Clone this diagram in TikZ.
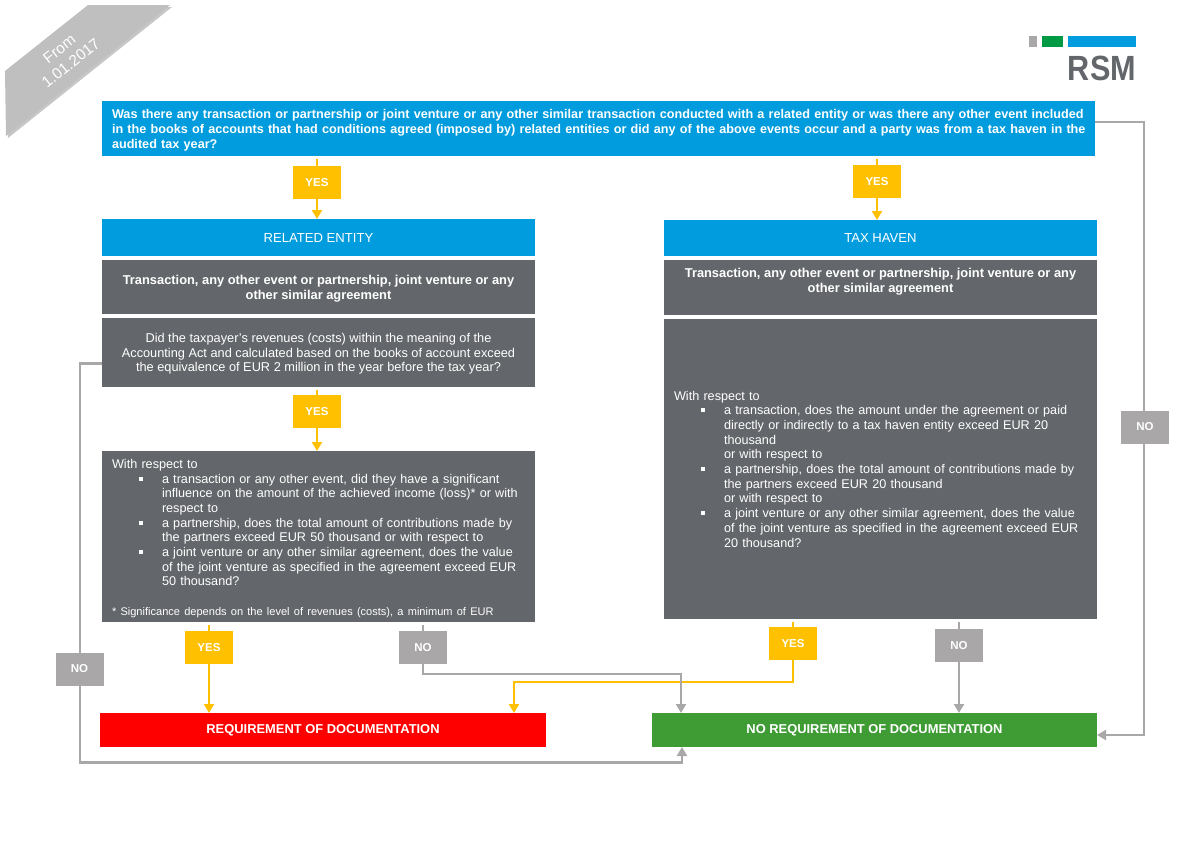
\documentclass[tikz,border=0pt]{standalone}
\usepackage{fontspec}
\setmainfont{Liberation Sans}
\usetikzlibrary{positioning, arrows.meta, shadows, backgrounds}
\definecolor{rsmblue}{HTML}{009CDE}
\definecolor{rsmdark}{HTML}{63666A}
\definecolor{rsmyellow}{HTML}{FFC000}
\definecolor{rsmgrey}{HTML}{A9A7A7}
\definecolor{rsmgreen}{HTML}{3F9C35}
\definecolor{rsmred}{HTML}{FF0000}
\definecolor{rsmlogogreen}{HTML}{009A44}
\newcommand{\itemline}[1]{\hspace*{27pt}\rule[2.5pt]{4pt}{4pt}\hspace*{19pt}#1}
\newcommand{\restline}[1]{\hspace*{50pt}#1}
\newcommand{\fullline}[1]{\makebox[0pt][l]{#1}}

\begin{document}
\begin{tikzpicture}[
    x=1pt, y=-1pt,
    >=Stealth,
    every node/.style={inner sep=0pt, outer sep=0pt, text=white},
    bar/.style={rectangle, minimum width=433pt, minimum height=36pt,
                fill=rsmblue, align=center, font=\fontsize{13.1}{14.7}\selectfont},
    darkbox/.style={rectangle, minimum width=433pt, fill=rsmdark, align=center,
                    font=\fontsize{12.77}{14.7}\selectfont},
    headbox/.style={darkbox, minimum height=54pt, font=\fontsize{12.85}{14.7}\selectfont\bfseries},
    listbox/.style={darkbox, align=left, text width=413pt, font=\fontsize{12.65}{14.7}\selectfont},
    yesbox/.style={rectangle, minimum width=48pt, minimum height=33pt, fill=rsmyellow,
                   font=\fontsize{11.5}{14}\selectfont\bfseries},
    nobox/.style={yesbox, fill=rsmgrey},
    endbox/.style={rectangle, minimum height=34pt, font=\fontsize{12.9}{14.7}\selectfont\bfseries},
    yesarrow/.style={-{Triangle[length=9pt, width=10pt]}, line width=2.8pt, rsmyellow},
    noarrow/.style={-{Triangle[length=9pt, width=10pt]}, line width=2.8pt, rsmgrey}
]
  \useasboundingbox (0,0) rectangle (1200,849);

  % Banner and logo
  \fill[black!25, drop shadow={shadow xshift=2pt, shadow yshift=-2pt, opacity=0.45}]
    (88,5) -- (170,5) -- (6,136) -- (5,71) -- cycle;
  \node[rotate=38.5, align=center, font=\fontsize{15.5}{18.5}\selectfont] (banner) at (65,56) {From\\1.01.2017};
  \fill[rsmgrey] (1029,36) rectangle (1037,47);
  \fill[rsmlogogreen] (1042,36) rectangle (1063,47);
  \fill[rsmblue] (1068,36) rectangle (1136,47);
  \node[text=rsmdark, anchor=east, font=\fontsize{35}{35}\selectfont\bfseries, xscale=0.875] (logo) at (1136,68.5) {RSM};

  % Top: the question
  \node[rectangle, fill=rsmblue, minimum width=993pt, minimum height=55pt, text width=973pt,
        align=left, font=\fontsize{12.65}{14.7}\selectfont\bfseries] (question) at (598.5,128.5)
    {\rule{0pt}{13pt}\fullline{Was there any transaction or partnership or joint venture or any other similar transaction conducted with a related entity or was there any other event included}\\
     \fullline{in the books of accounts that had conditions agreed (imposed by) related entities or did any of the above events occur and a party was from a tax haven in the}\\
     audited tax year?};

  % Left column
  \node[bar, below=63pt of question, xshift=-280pt, minimum height=37pt] (related) {RELATED ENTITY};
  \node[yesbox, above=20pt of related, xshift=-1.5pt] (yesrel) {YES};
  \node[headbox, below=4pt of related] (transrel)
    {\rule{0pt}{13pt}Transaction, any other event or partnership, joint venture or any\\other similar agreement};
  \node[darkbox, below=4pt of transrel, minimum height=69pt] (revenues)
    {\rule{0pt}{12pt}Did the taxpayer’s revenues (costs) within the meaning of the\\
     Accounting Act and calculated based on the books of account exceed\\
     the equivalence of EUR 2 million in the year before the tax year?};
  \node[yesbox, below=8pt of revenues, xshift=-1.5pt] (yesrev) {YES};
  \node[listbox, below=64pt of revenues, minimum height=171pt] (listrel)
    {\rule{0pt}{13pt}With respect to\\
     \itemline{a transaction or any other event, did they have a significant}\\
     \restline{influence on the amount of the achieved income (loss)* or with}\\
     \restline{respect to}\\
     \itemline{a partnership, does the total amount of contributions made by}\\
     \restline{the partners exceed EUR 50 thousand or with respect to}\\
     \itemline{a joint venture or any other similar agreement, does the value}\\
     \restline{of the joint venture as specified in the agreement exceed EUR}\\
     \restline{50 thousand?}\\
     \mbox{}\\
     \fontsize{11.05}{14.7}\selectfont {*} Significance depends on the level of revenues (costs), a minimum of EUR};
  \node[yesbox, below=9pt of listrel, xshift=-109.5pt] (yesdoc) {YES};
  \node[nobox, below=9pt of listrel, xshift=104.5pt] (nodoc) {NO};
  \node[nobox] (norev) at (79.5,669) {NO};

  % Right column
  \node[bar, below=64pt of question, xshift=282pt] (haven) {TAX HAVEN};
  \node[yesbox, above=22pt of haven, xshift=-3.5pt] (yeshav) {YES};
  \node[headbox, below=4pt of haven, minimum height=55pt, text depth=15pt] (transhav)
    {Transaction, any other event or partnership, joint venture or any\\other similar agreement};
  \node[listbox, below=4pt of transhav, minimum height=300pt] (listhav)
    {With respect to\\
     \itemline{a transaction, does the amount under the agreement or paid}\\
     \restline{directly or indirectly to a tax haven entity exceed EUR 20}\\
     \restline{thousand}\\
     \restline{or with respect to}\\
     \itemline{a partnership, does the total amount of contributions made by}\\
     \restline{the partners exceed EUR 20 thousand}\\
     \restline{or with respect to}\\
     \itemline{a joint venture or any other similar agreement, does the value}\\
     \restline{of the joint venture as specified in the agreement exceed EUR}\\
     \restline{20 thousand?}};
  \node[yesbox, below=8pt of listhav, xshift=-87.5pt] (yestax) {YES};
  \node[nobox, below=10pt of listhav, xshift=78.5pt] (notax) {NO};
  \node[nobox] (noquest) at (1145,427) {NO};

  % Bottom: outcomes
  \node[endbox, fill=rsmred, minimum width=446pt, below=91pt of listrel, xshift=4.5pt] (reqdoc)
    {REQUIREMENT OF DOCUMENTATION};
  \node[endbox, fill=rsmgreen, minimum width=445pt, below=94pt of listhav, xshift=-6pt] (noreq)
    {NO REQUIREMENT OF DOCUMENTATION};

  % Arrows
  \begin{scope}[on background layer]
    \draw[yesarrow, shorten <=3pt] (yesrel |- question.south) -- (yesrel |- related.north);
    \draw[yesarrow, shorten <=3pt] (yeshav |- question.south) -- (yeshav |- haven.north);
    \draw[yesarrow, shorten <=3pt] (yesrev |- revenues.south) -- (yesrev |- listrel.north);
    \draw[yesarrow, shorten <=3pt] (yesdoc |- listrel.south) -- (yesdoc |- reqdoc.north);
    \draw[yesarrow, shorten <=3pt] (yestax |- listhav.south) -- ++(0,63) -| ([xshift=-32pt]reqdoc.north east);
    \draw[noarrow, shorten <=3pt] (nodoc |- listrel.south) -- ++(0,52) -| ([xshift=29pt]noreq.north west);
    \draw[noarrow, shorten <=3pt] (notax |- listhav.south) -- (notax |- noreq.north);
    \draw[noarrow] ([yshift=-11pt]revenues.west) -- ++(-22,0) -- ++(0,399) -| ([xshift=30pt]noreq.south west);
    \draw[noarrow] ([yshift=6.5pt]question.east) -- ++(49,0) |- ([yshift=-5pt]noreq.east);
  \end{scope}
\end{tikzpicture}
\end{document}
